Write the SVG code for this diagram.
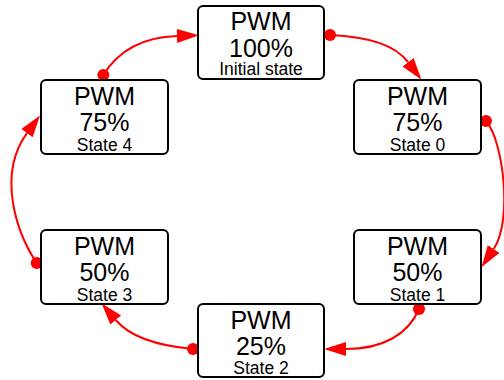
<svg xmlns="http://www.w3.org/2000/svg" width="504" height="380" viewBox="0 0 504 380">
<style>
.box{fill:#fff;stroke:#000;stroke-width:2}
.big{font-family:"Liberation Sans",Arial,sans-serif;font-size:25px;text-anchor:middle;fill:#000}
.small{font-family:"Liberation Sans",Arial,sans-serif;font-size:17.5px;text-anchor:middle;fill:#000}
.edge{fill:none;stroke:#ff0000;stroke-width:2;marker-end:url(#arrow)}
.dot{fill:#ff0000}
</style>
<defs>
<marker id="arrow" markerUnits="userSpaceOnUse" markerWidth="24" markerHeight="16" refX="0" refY="7" orient="auto" viewBox="0 0 24 16">
<path d="M0,0 L22,7 L0,14 z" fill="#ff0000"/>
</marker>
</defs>
<rect width="504" height="380" fill="#fff"/>
<g id="connectors">
<path class="edge" d="M330,35 C370,37 395,45 408.1,62.2"/>
<circle class="dot" cx="330" cy="35" r="6"/>
<path class="edge" d="M486,121 C503,140 513,220 493.7,249"/>
<circle class="dot" cx="486" cy="121" r="6"/>
<path class="edge" d="M419,309 C408,335 382,349 346,349"/>
<circle class="dot" cx="419" cy="309" r="6"/>
<path class="edge" d="M193,349 C160,346 130,337 115.7,320"/>
<circle class="dot" cx="193" cy="349" r="6"/>
<path class="edge" d="M36.7,263 C16,232 -3,174 27,133.2"/>
<circle class="dot" cx="36.7" cy="263" r="6"/>
<path class="edge" d="M103.3,75 C120,48 145,37 177,36"/>
<circle class="dot" cx="103.3" cy="75" r="6"/>
</g>
<g id="initial">
<rect class="box" x="198" y="6" width="126" height="73" rx="5"/>
<text class="big" x="261" y="30">PWM</text>
<text class="big" x="261" y="56.5">100%</text>
<text class="small" x="261" y="75">Initial state</text>
</g>
<g id="state0">
<rect class="box" x="354" y="80" width="127" height="74" rx="5"/>
<text class="big" x="417.5" y="105">PWM</text>
<text class="big" x="417.5" y="131">75%</text>
<text class="small" x="417.5" y="151">State 0</text>
</g>
<g id="state1">
<rect class="box" x="354" y="230" width="127" height="74" rx="5"/>
<text class="big" x="417.5" y="255">PWM</text>
<text class="big" x="417.5" y="281">50%</text>
<text class="small" x="417.5" y="301">State 1</text>
</g>
<g id="state2">
<rect class="box" x="198" y="304" width="126" height="73" rx="5"/>
<text class="big" x="261" y="328.5">PWM</text>
<text class="big" x="261" y="354.5">25%</text>
<text class="small" x="261" y="373.5">State 2</text>
</g>
<g id="state3">
<rect class="box" x="41" y="230" width="127" height="74" rx="5"/>
<text class="big" x="104.5" y="255">PWM</text>
<text class="big" x="104.5" y="281">50%</text>
<text class="small" x="104.5" y="301">State 3</text>
</g>
<g id="state4">
<rect class="box" x="41" y="80" width="127" height="74" rx="5"/>
<text class="big" x="104.5" y="105">PWM</text>
<text class="big" x="104.5" y="131">75%</text>
<text class="small" x="104.5" y="151">State 4</text>
</g>
</svg>
